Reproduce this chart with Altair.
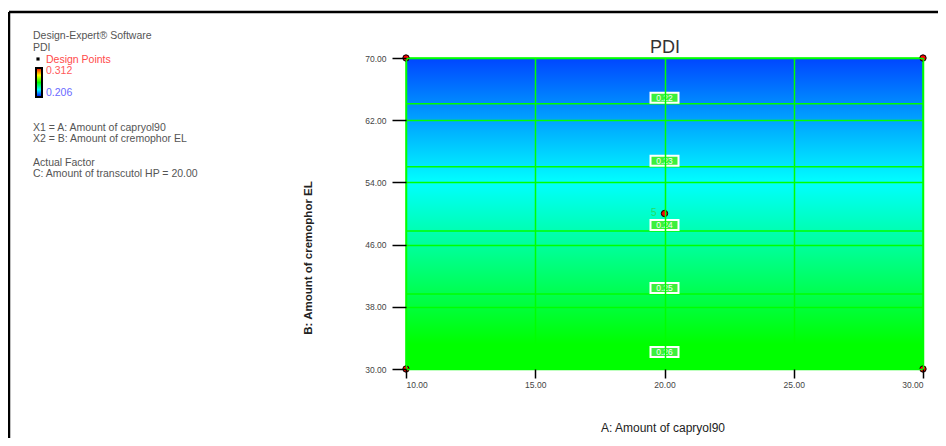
import altair as alt
import pandas as pd

# ---------------- data ----------------
a_range = [10, 30]          # A: Amount of capryol90
b_range = [30, 70]          # B: Amount of cremophor EL
x_ticks = [10, 15, 20, 25, 30]
y_ticks = [30, 38, 46, 54, 62, 70]

design_A = [10, 30, 10, 30, 20]
design_B = [70, 70, 30, 30, 50]
design_label = ["", "", "", "", "5"]

contour_levels = ["0.22", "0.23", "0.24", "0.25", "0.26"]
contour_B = [64.1, 56.0, 47.75, 39.65, 31.4]
contour_label_A = [20, 20, 20, 20, 20]

pdi_high = "0.312"
pdi_low = "0.206"

legend_lines = [
    "Design-Expert® Software",
    "PDI",
    "Design Points",
    pdi_high,
    pdi_low,
    "X1 = A: Amount of capryol90",
    "X2 = B: Amount of cremophor EL",
    "Actual Factor",
    "C: Amount of transcutol HP = 20.00",
]
title_text = "PDI"
x_title = "A: Amount of capryol90"
y_title = "B: Amount of cremophor EL"

# ---------------- layout / style (pixels, relative to plot origin) -------------
W, H = 517, 311
OX, OY = 406, 58          # plot origin on the page
FONT = "Liberation Sans"
GREEN = "#00ff00"

legend_pos = [(33, 36), (33, 48), (46, 60), (46, 71), (46, 93),
              (33, 128), (33, 139), (33, 163), (33, 174)]
legend_col = ["#555555", "#555555", "#ff4a4a", "#ff5a5a", "#6a6aff",
              "#555555", "#555555", "#555555", "#555555"]

xs = alt.Scale(domain=a_range, nice=False, zero=False)
ys = alt.Scale(domain=b_range, nice=False, zero=False)

field_df = pd.DataFrame({"A": [a_range[0]], "A2": [a_range[1]],
                         "B": [b_range[0]], "B2": [b_range[1]]})

surface = alt.Chart(field_df).mark_rect(
    color=alt.Gradient(
        gradient="linear", x1=0, y1=0, x2=0, y2=1,
        stops=[
            alt.GradientStop(color="#0046ff", offset=0.0),
            alt.GradientStop(color="#00ffff", offset=0.40),
            alt.GradientStop(color="#00ff00", offset=0.92),
            alt.GradientStop(color="#00ff00", offset=1.0),
        ]),
    stroke=GREEN, strokeWidth=1.5,
).encode(
    x=alt.X("A:Q", scale=xs,
            axis=alt.Axis(values=x_ticks, format=".2f", title=None, grid=True,
                          gridColor=GREEN, gridWidth=1.5, tickSize=9,
                          labelPadding=2, zindex=1)),
    x2="A2:Q",
    y=alt.Y("B:Q", scale=ys,
            axis=alt.Axis(values=y_ticks, format=".2f", title=None, grid=True,
                          gridColor=GREEN, gridWidth=1.5, tickSize=14,
                          labelPadding=6, zindex=1)),
    y2="B2:Q",
)

contour_df = pd.DataFrame({"level": contour_levels, "B": contour_B, "A": contour_label_A})

contour_lines = alt.Chart(contour_df).mark_rule(color=GREEN, strokeWidth=1.5).encode(
    y="B:Q", x=alt.datum(a_range[0]), x2=alt.datum(a_range[1]))

contour_boxes = alt.Chart(contour_df).mark_rect(
    width=28, height=10, yOffset=-6, fill="#3cf03c", stroke="white", strokeWidth=2
).encode(x="A:Q", y="B:Q")

contour_text = alt.Chart(contour_df).mark_text(
    font=FONT, fontSize=8.5, color="#f4fff4", yOffset=-6, baseline="middle", align="center"
).encode(x="A:Q", y="B:Q", text="level:N")

design_df = pd.DataFrame({"A": design_A, "B": design_B, "label": design_label})

design_pts = alt.Chart(design_df).mark_point(
    shape="circle", filled=True, fill="#ff0000", stroke="black", strokeWidth=1,
    size=40, opacity=1).encode(x="A:Q", y="B:Q")

design_txt = alt.Chart(design_df).mark_text(
    font=FONT, fontSize=10, color="#22dd66", align="right", dx=-8, dy=-1,
    baseline="middle").encode(x="A:Q", y="B:Q", text="label:N")

one = pd.DataFrame({"t": [title_text]})

title = alt.Chart(one).mark_text(
    font=FONT, fontSize=18, color="#333333", align="center", baseline="alphabetic"
).encode(x=alt.value(665 - OX), y=alt.value(53 - OY), text="t:N")

xt = alt.Chart(pd.DataFrame({"t": [x_title]})).mark_text(
    font=FONT, fontSize=12, color="#222222", align="center", baseline="middle"
).encode(x=alt.value(663 - OX), y=alt.value(428 - OY), text="t:N")

yt = alt.Chart(pd.DataFrame({"t": [y_title]})).mark_text(
    font=FONT, fontSize=11.5, fontWeight="bold", color="#222222", align="center",
    baseline="middle", angle=270
).encode(x=alt.value(309 - OX), y=alt.value(258 - OY), text="t:N")

legend_layers = []
for txt, (px, py), col in zip(legend_lines, legend_pos, legend_col):
    legend_layers.append(
        alt.Chart(pd.DataFrame({"t": [txt]})).mark_text(
            font=FONT, fontSize=10.5, color=col, align="left", baseline="middle"
        ).encode(x=alt.value(px - OX), y=alt.value(py - OY), text="t:N"))

bullet = alt.Chart(one).mark_square(size=10, color="black", opacity=1).encode(
    x=alt.value(38 - OX), y=alt.value(59 - OY))

colorbar = alt.Chart(one).mark_rect(
    color=alt.Gradient(
        gradient="linear", x1=0, y1=0, x2=0, y2=1,
        stops=[
            alt.GradientStop(color="#ff0000", offset=0.0),
            alt.GradientStop(color="#ffff00", offset=0.25),
            alt.GradientStop(color="#00ff00", offset=0.5),
            alt.GradientStop(color="#00ffff", offset=0.75),
            alt.GradientStop(color="#0000ff", offset=1.0),
        ]),
    stroke="black", strokeWidth=2,
).encode(x=alt.value(36 - OX), x2=alt.value(42 - OX),
         y=alt.value(68 - OY), y2=alt.value(97 - OY))

frame_left = alt.Chart(one).mark_rule(color="black", strokeWidth=2.5).encode(
    x=alt.value(9 - OX), y=alt.value(12 - OY), y2=alt.value(446 - OY))
frame_top = alt.Chart(one).mark_rule(color="black", strokeWidth=2.5).encode(
    x=alt.value(9 - OX), x2=alt.value(946 - OX), y=alt.value(12 - OY))

chart = alt.layer(
    surface, contour_lines, contour_boxes, contour_text, design_pts, design_txt,
    title, xt, yt, bullet, colorbar, frame_left, frame_top, *legend_layers
).properties(
    width=W, height=H,
    padding={"left": OX - 8, "top": OY - 8, "right": 15, "bottom": 69},
    autosize=alt.AutoSizeParams(type="none"),
).configure_view(stroke=None).configure_axis(
    labelFont=FONT, labelFontSize=8.5, labelColor="#444444",
    tickColor="black", tickWidth=1.5, domain=False,
)

chart.save("out.html", embed_options={"renderer": "svg", "actions": False})
